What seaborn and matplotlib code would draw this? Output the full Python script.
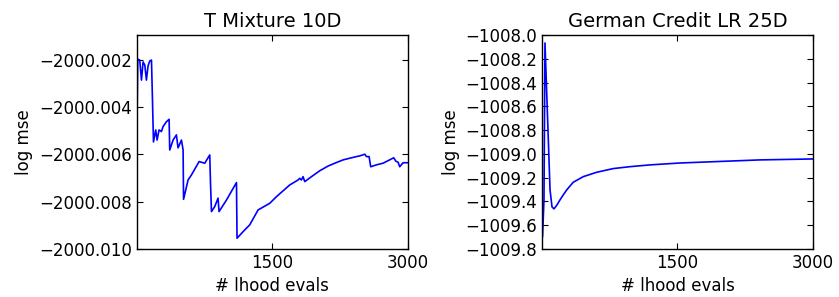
import numpy as np
import pandas as pd
import matplotlib
matplotlib.use("Agg")
import matplotlib.pyplot as plt
import seaborn as sns
from matplotlib.ticker import FuncFormatter

# T Mixture 10D trace
tmix_evals = [0, 11, 33, 52, 70, 89, 107, 125, 144, 163, 174, 185, 210, 225, 247,
              273, 291, 329, 358, 365, 402, 439, 457, 495, 513, 518, 568, 605,
              690, 753, 808, 816, 827, 863, 900, 911, 993, 1104, 1110, 1177,
              1251, 1343, 1398, 1472, 1546, 1602, 1694, 1786, 1804, 1823, 1841,
              1860, 1934, 2026, 2118, 2192, 2284, 2377, 2432, 2469, 2524, 2543,
              2572, 2590, 2653, 2727, 2845, 2867, 2893, 2911, 2948, 3000]
tmix_logmse = [-2000.00551, -2000.00196, -2000.00200, -2000.00285, -2000.00208,
               -2000.00221, -2000.00285, -2000.00225, -2000.00204, -2000.00200,
               -2000.00369, -2000.00547, -2000.00496, -2000.00539, -2000.00496,
               -2000.00503, -2000.00482, -2000.00461, -2000.00451, -2000.00581,
               -2000.00539, -2000.00517, -2000.00572, -2000.00539, -2000.00581,
               -2000.00790, -2000.00708, -2000.00687, -2000.00630, -2000.00637,
               -2000.00602, -2000.00715, -2000.00842, -2000.00821, -2000.00785,
               -2000.00842, -2000.00793, -2000.00719, -2000.00955, -2000.00927,
               -2000.00898, -2000.00835, -2000.00823, -2000.00807, -2000.00779,
               -2000.00760, -2000.00729, -2000.00708, -2000.00701, -2000.00708,
               -2000.00694, -2000.00715, -2000.00694, -2000.00669, -2000.00649,
               -2000.00637, -2000.00623, -2000.00614, -2000.00609, -2000.00606,
               -2000.00599, -2000.00609, -2000.00609, -2000.00652, -2000.00644,
               -2000.00637, -2000.00614, -2000.00628, -2000.00633, -2000.00652,
               -2000.00635, -2000.00635]

# German Credit LR 25D trace
credit_evals = [6, 22, 33, 55, 89, 111, 133, 166, 199, 236, 273, 346, 457, 606,
                789, 974, 1196, 1528, 1970, 2413, 3000]
credit_logmse = [-1009.699, -1009.388, -1008.067, -1008.547, -1009.304, -1009.447,
                 -1009.463, -1009.430, -1009.388, -1009.345, -1009.304, -1009.239,
                 -1009.192, -1009.155, -1009.124, -1009.108, -1009.093, -1009.077,
                 -1009.064, -1009.051, -1009.043]

titles = ["T Mixture 10D", "German Credit LR 25D"]


def minus_fmt(decimals):
    return FuncFormatter(lambda v, pos: f"{v:.{decimals}f}".replace("-", "\u2212"))


def main():
    sns.set_style("white", {
        "xtick.direction": "in", "ytick.direction": "in",
        "xtick.top": True, "ytick.right": True,
        "xtick.bottom": True, "ytick.left": True,
        "axes.edgecolor": "black",
        "axes.labelcolor": "black",
        "text.color": "black",
        "xtick.color": "black",
        "ytick.color": "black",
    })
    plt.rcParams["font.family"] = ["DejaVu Sans"]

    fig = plt.figure(figsize=(8.39, 2.97), dpi=100)
    ax1 = fig.add_axes([0.163, 0.162, 0.323, 0.720])
    ax2 = fig.add_axes([0.646, 0.162, 0.323, 0.720])

    df1 = pd.DataFrame({"evals": tmix_evals, "logmse": tmix_logmse})
    df2 = pd.DataFrame({"evals": credit_evals, "logmse": credit_logmse})

    sns.lineplot(data=df1, x="evals", y="logmse", ax=ax1, color="#0000ff",
                 linewidth=1.2, estimator=None, sort=False)
    sns.lineplot(data=df2, x="evals", y="logmse", ax=ax2, color="#0000ff",
                 linewidth=1.2, estimator=None, sort=False)

    ax1.set_ylim(-2000.010, -2000.00094)
    ax1.set_yticks(np.round(np.arange(-2000.010, -2000.0015, 0.002), 3))
    ax1.yaxis.set_major_formatter(minus_fmt(3))
    ax2.set_ylim(-1009.8, -1008.0)
    ax2.set_yticks(np.round(np.arange(-1009.8, -1007.95, 0.2), 1))
    ax2.yaxis.set_major_formatter(minus_fmt(1))

    for ax, title in zip([ax1, ax2], titles):
        ax.set_xlim(0, 3000)
        ax.set_xticks([1500, 3000])
        ax.set_title(title, fontsize=14, color="black")
        ax.set_xlabel("# lhood evals", fontsize=12)
        ax.set_ylabel("log mse", fontsize=12)
        ax.tick_params(labelsize=12, which="both", top=True, right=True,
                       direction="in", length=4, width=0.8, colors="black")
        for s in ax.spines.values():
            s.set_visible(True)
            s.set_color("black")
            s.set_linewidth(1.0)

    fig.savefig("out.png", dpi=100)
    plt.close(fig)


if __name__ == "__main__":
    main()
